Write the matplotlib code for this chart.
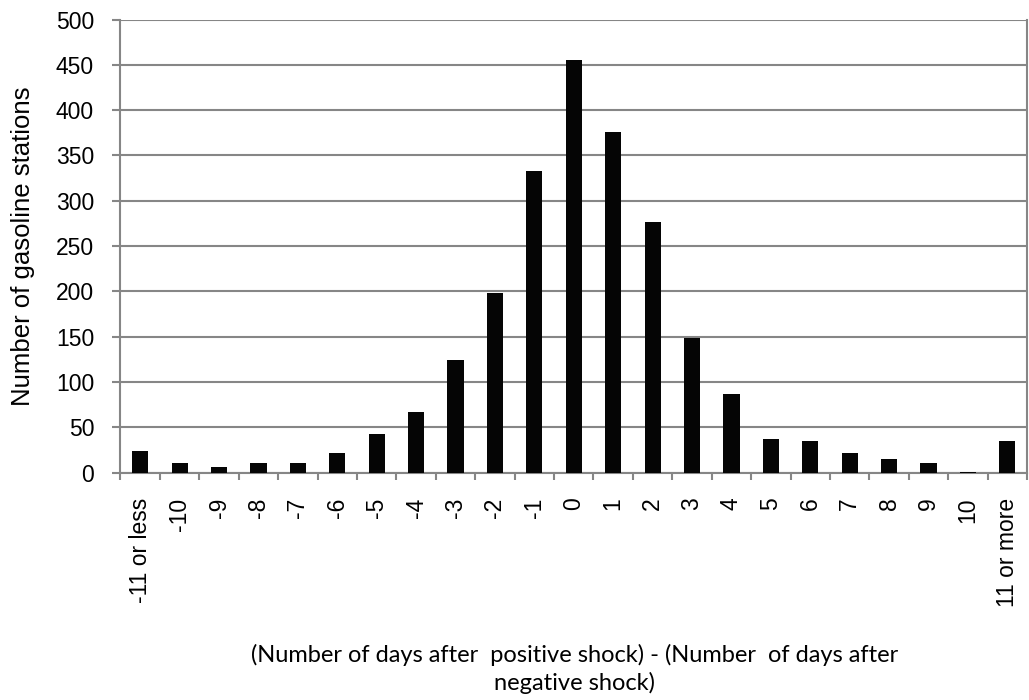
import matplotlib
matplotlib.use("Agg")
import matplotlib.pyplot as plt
import numpy as np

# категории по оси X и число заправок
categories = ["-11 or less", "-10", "-9", "-8", "-7", "-6", "-5", "-4", "-3", "-2", "-1",
              "0", "1", "2", "3", "4", "5", "6", "7", "8", "9", "10", "11 or more"]
stations = [24, 11, 6, 11, 11, 22, 43, 67, 124, 198, 333,
            455, 376, 276, 149, 87, 37, 35, 21, 15, 10, 1, 35]

plt.rcParams['font.family'] = ['Liberation Sans', 'DejaVu Sans']
grey = "#868686"

fig = plt.figure(figsize=(10.29, 7), dpi=100)
ax = fig.add_axes([0.1171, 0.325, 0.881, 0.647])

x = np.arange(len(categories))
ax.bar(x, stations, width=0.41, color="#050505", zorder=3)

ax.set_xlim(-0.5, len(categories) - 0.5)
ax.set_ylim(0, 500)
ax.set_yticks(np.arange(0, 501, 50))
ax.yaxis.grid(True, color=grey, linewidth=1.5, zorder=0)

# подписи по центру, риски между категориями
ax.set_xticks(x)
ax.set_xticklabels(categories, rotation=90, fontsize=16.5)
ax.set_xticks(np.arange(-0.5, len(categories), 1), minor=True)
ax.tick_params(axis="x", which="major", length=0, pad=18)
ax.tick_params(axis="x", which="minor", length=5, color=grey, width=1.5)
ax.tick_params(axis="y", length=6, color=grey, width=1.5, labelsize=16.5, pad=13)

ax.spines["top"].set_visible(False)
for s in ["left", "bottom", "right"]:
    ax.spines[s].set_color(grey)
    ax.spines[s].set_linewidth(1.5)

ax.set_ylabel("Number of gasoline stations", fontsize=18.5, labelpad=15)

# подпись оси X в две строки
lato = ["Lato", "DejaVu Sans"]
fig.text(0.558, 1 - 662 / 700, "(Number of days after  positive shock) - (Number  of days after",
         ha="center", va="baseline", fontsize=17, family=lato)
fig.text(0.558, 1 - 690 / 700, "negative shock)",
         ha="center", va="baseline", fontsize=17, family=lato)

fig.savefig("out.png", dpi=100)
